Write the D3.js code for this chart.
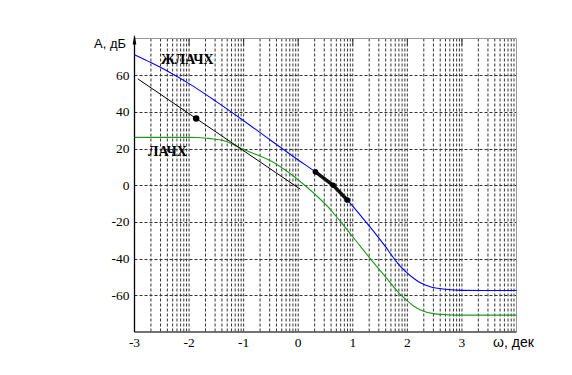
<!DOCTYPE html>
<html><head><meta charset="utf-8">
<script src="https://cdn.jsdelivr.net/npm/d3@7"></script>
<style>body{margin:0;background:#fff}svg{display:block}</style>
</head><body>
<svg id="c" width="572" height="375"></svg>
<script>
// Data (x in decades, y in dB)
const xTicks = [-3, -2, -1, 0, 1, 2, 3];
const yTicks = [-60, -40, -20, 0, 20, 40, 60];
const blueX = [-3.0, -2.7, -2.4, -2.0, -1.5, -1.0, -0.5, 0.0, 0.315, 0.64, 0.9, 1.2, 1.5, 1.6, 1.72, 1.81, 1.95, 2.12, 2.24, 2.42, 2.7, 3.0, 4.0];
const blueY = [71.2, 66.9, 62.3, 55.4, 45.6, 35.2, 24.4, 13.8, 7.3, 0, -8, -18.6, -29.6, -33.5, -38.5, -42, -46.5, -50.8, -53.2, -55.3, -56.7, -57.3, -57.4];
const greenX = [-3.0, -2.0, -1.85, -1.6, -1.36, -1.0, -0.45, 0.12, 0.4, 0.6, 0.78, 1.05, 1.32, 1.6, 1.87, 2.0, 2.12, 2.24, 2.48, 2.79, 3.0, 4.0];
const greenY = [26.1, 26.1, 26.0, 25.4, 24.3, 19.5, 12.4, 0, -7.5, -13.5, -20, -30, -40, -50, -59.5, -63, -66, -68, -70, -70.7, -70.8, -70.8];
const asymX = [-2.94, 0.04];
const asymY = [58, -2.2];
const asymDotX = [-1.87];
const asymDotY = [36.4];
const segX = [0.315, 0.64, 0.9];
const segY = [7.3, 0, -8];
const curveNames = ["ЖЛАЧХ", "ЛАЧХ"];

const SERIF = "'Liberation Serif', 'Times New Roman', 'DejaVu Serif', serif";
const SANS = "'Liberation Sans', Arial, sans-serif";

const svg = d3.select("#c");
const L = 134.5, R = 516.5, T = 38.5, B = 332;
const x = d3.scaleLinear().domain([-3, 4]).range([L, R]);
const y = d3.scaleLinear().domain([-80, 80]).range([B, T]);

// vertical log grid
const vgrid = [];
for (let d = -3; d < 4; d++) for (let k = 1; k <= 9; k++) {
  if (d === -3 && k === 1) continue;
  vgrid.push(d + Math.log10(k));
}
svg.append("g").selectAll("line").data(vgrid).join("line")
  .attr("x1", d => x(d)).attr("x2", d => x(d))
  .attr("y1", T).attr("y2", B)
  .attr("stroke", "#333").attr("stroke-width", 1).attr("stroke-dasharray", "3,2");
// horizontal grid
svg.append("g").selectAll("line").data(yTicks).join("line")
  .attr("x1", L).attr("x2", R)
  .attr("y1", d => Math.round(y(d)) + 0.5).attr("y2", d => Math.round(y(d)) + 0.5)
  .attr("stroke", "#333").attr("stroke-width", 1).attr("stroke-dasharray", "3,2");

// frame
svg.append("line").attr("x1", L).attr("x2", R).attr("y1", T).attr("y2", T).attr("stroke", "#999");
svg.append("line").attr("x1", R).attr("x2", R).attr("y1", T).attr("y2", B).attr("stroke", "#999");
// top ticks at decades
svg.append("g").selectAll("line").data(xTicks.slice(1)).join("line")
  .attr("x1", d => x(d)).attr("x2", d => x(d)).attr("y1", T).attr("y2", T + 7)
  .attr("stroke", "#333");

// axes
svg.append("line").attr("x1", L).attr("x2", R).attr("y1", B).attr("y2", B).attr("stroke", "#444").attr("stroke-width", 1.5);
svg.append("line").attr("x1", L).attr("x2", L).attr("y1", B).attr("y2", T - 2).attr("stroke", "#000").attr("stroke-width", 1.3);
svg.append("path").attr("d", `M${L},${T - 4} L${L - 1.8},${T + 6} L${L + 1.8},${T + 6} Z`).attr("fill", "#000");

// tick labels
svg.append("g").selectAll("text").data(yTicks).join("text")
  .attr("x", L - 5).attr("y", d => y(d) + 4.5).attr("text-anchor", "end")
  .style("font-family", SERIF).style("font-size", "13.5px").text(d => d);
svg.append("g").selectAll("text").data(xTicks).join("text")
  .attr("x", d => x(d)).attr("y", 347).attr("text-anchor", "middle")
  .style("font-family", SERIF).style("font-size", "13.5px").text(d => d);

svg.append("text").attr("x", 94).attr("y", 47.5).style("font-family", SANS)
  .style("font-size", "13px").text("А, дБ");
svg.append("text").attr("x", 493).attr("y", 347).style("font-family", SANS)
  .style("font-size", "14px").text("ω, дек");

// curves
const line = d3.line().x(d => x(d[0])).y(d => y(d[1])).curve(d3.curveMonotoneX);
const blue = blueX.map((v, i) => [v, blueY[i]]);
const green = greenX.map((v, i) => [v, greenY[i]]);
const asym = asymX.map((v, i) => [v, asymY[i]]);
svg.append("path").attr("d", line(green)).attr("fill", "none").attr("stroke", "#1c9a1c").attr("stroke-width", 1.1);
svg.append("path").attr("d", line(blue)).attr("fill", "none").attr("stroke", "#0000ff").attr("stroke-width", 1.1);
svg.append("path").attr("d", d3.line().x(d => x(d[0])).y(d => y(d[1]))(asym)).attr("fill", "none").attr("stroke", "#000").attr("stroke-width", 1);
svg.append("circle").attr("cx", x(asymDotX[0])).attr("cy", y(asymDotY[0])).attr("r", 3.2).attr("fill", "#000");

const seg = segX.map((v, i) => [v, segY[i]]);
svg.append("path").attr("d", d3.line().x(d => x(d[0])).y(d => y(d[1]))(seg)).attr("fill", "none").attr("stroke", "#111").attr("stroke-width", 3.5);
svg.append("g").selectAll("circle").data(seg).join("circle")
  .attr("cx", d => x(d[0])).attr("cy", d => y(d[1])).attr("r", 2.8).attr("fill", "#000");

// curve labels
svg.append("text").attr("x", 161).attr("y", 64).style("font-family", SERIF)
  .style("font-weight", "bold").style("font-size", "14px").text(curveNames[0]);
svg.append("text").attr("x", 148).attr("y", 155.5).style("font-family", SERIF)
  .style("font-weight", "bold").style("font-size", "14px").text(curveNames[1]);
</script>
</body></html>
